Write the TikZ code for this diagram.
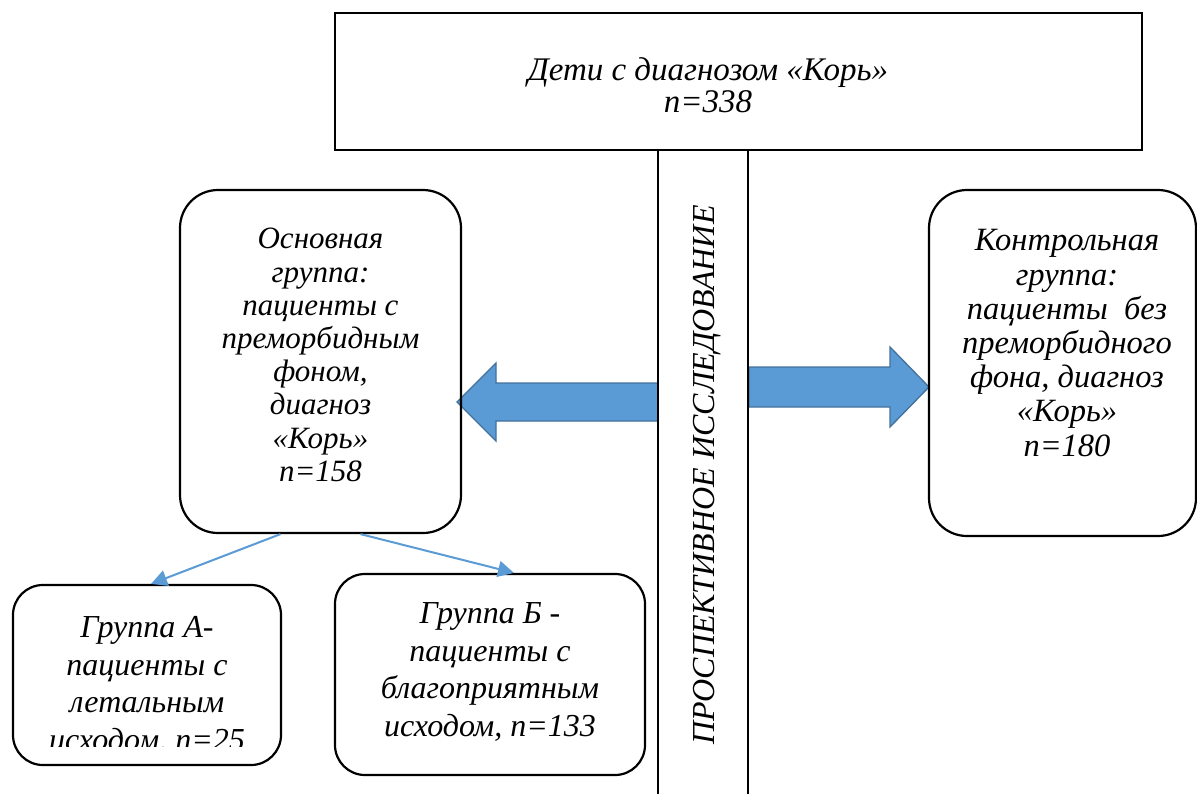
\documentclass[tikz,border=0pt]{standalone}
\usepackage{fontspec}
\setmainfont{Liberation Serif}
\usetikzlibrary{arrows.meta}
\definecolor{blockblue}{HTML}{5B9BD5}
\definecolor{blockedge}{HTML}{41719C}
\begin{document}
\begin{tikzpicture}[x=1pt,y=-1pt,
  boxline/.style={draw=black,line width=2.2pt},
  sqbox/.style={boxline,rectangle,inner sep=0pt},
  rbox/.style={boxline,rectangle,rounded corners=38pt,inner sep=0pt},
  sbox/.style={boxline,rectangle,rounded corners=30pt,inner sep=0pt},
  txttop/.style={align=center,inner sep=0pt,font=\itshape\fontsize{33}{32.5}\selectfont},
  txtl/.style={align=center,inner sep=0pt,font=\itshape\fontsize{31}{33.2}\selectfont},
  txtr/.style={align=center,inner sep=0pt,font=\itshape\fontsize{32.5}{34.2}\selectfont},
  txtb/.style={align=center,inner sep=0pt,font=\itshape\fontsize{32}{37.5}\selectfont},
  blockarrow/.style={fill=blockblue,draw=blockedge,line width=1.3pt,line join=miter},
  thinarrow/.style={draw=blockblue,line width=2pt,-{Triangle[length=16pt,width=16pt]}}
]
\useasboundingbox (0,0) rectangle (1197,793);
% block arrows (drawn first, bar on top)
\draw[blockarrow] (658,383) -- (496,383) -- (496,363) -- (457,402) -- (496,441) -- (496,421) -- (658,421) -- cycle;
\draw[blockarrow] (749,367) -- (890,367) -- (890,347) -- (929,387) -- (890,427) -- (890,407) -- (749,407) -- cycle;
% top box
\node[sqbox,fill=white,minimum width=807pt,minimum height=137pt] (top) at (738.5,81.5) {};
\node[txttop] (toptxt) at (708,85) {Дети с диагнозом «Корь»\\n=338};
% vertical bar
\node[sqbox,fill=white,minimum width=90pt,minimum height=650pt] (bar) at (703,475) {};
\node[inner sep=0pt,rotate=90,font=\itshape\fontsize{32}{36}\selectfont] (bartxt) at (707,475) {ПРОСПЕКТИВНОЕ ИССЛЕДОВАНИЕ};
% main group
\node[rbox,minimum width=281pt,minimum height=343pt] (main) at (320.5,361.5) {};
\node[txtl] (maintxt) at (320.5,355) {Основная\\группа:\\пациенты с\\преморбидным\\фоном,\\диагноз\\«Корь»\\n=158};
% control group
\node[rbox,minimum width=267pt,minimum height=346pt] (ctrl) at (1062.5,363) {};
\node[txtr] (ctrltxt) at (1067,343) {Контрольная\\группа:\\пациенты\ \ без\\преморбидного\\фона, диагноз\\«Корь»\\n=180};
% group A
\node[sbox,minimum width=268pt,minimum height=180pt] (grpA) at (147,675) {};
\begin{scope}
\clip (14,586) rectangle (280,746);
\node[txtb] (grpAtxt) at (147,686) {Группа А-\\пациенты с\\летальным\\исходом, n=25};
\end{scope}
% group B
\node[sbox,minimum width=310pt,minimum height=201pt] (grpB) at (490,674.5) {};
\node[txtb] (grpBtxt) at (490,672) {Группа Б -\\пациенты с\\благоприятным\\исходом, n=133};
% thin arrows
\draw[thinarrow] ([xshift=-40pt]main.south) -- ([xshift=4pt]grpA.north);
\draw[thinarrow] ([xshift=40pt]main.south) -- ([xshift=24pt]grpB.north);
\end{tikzpicture}
\end{document}
